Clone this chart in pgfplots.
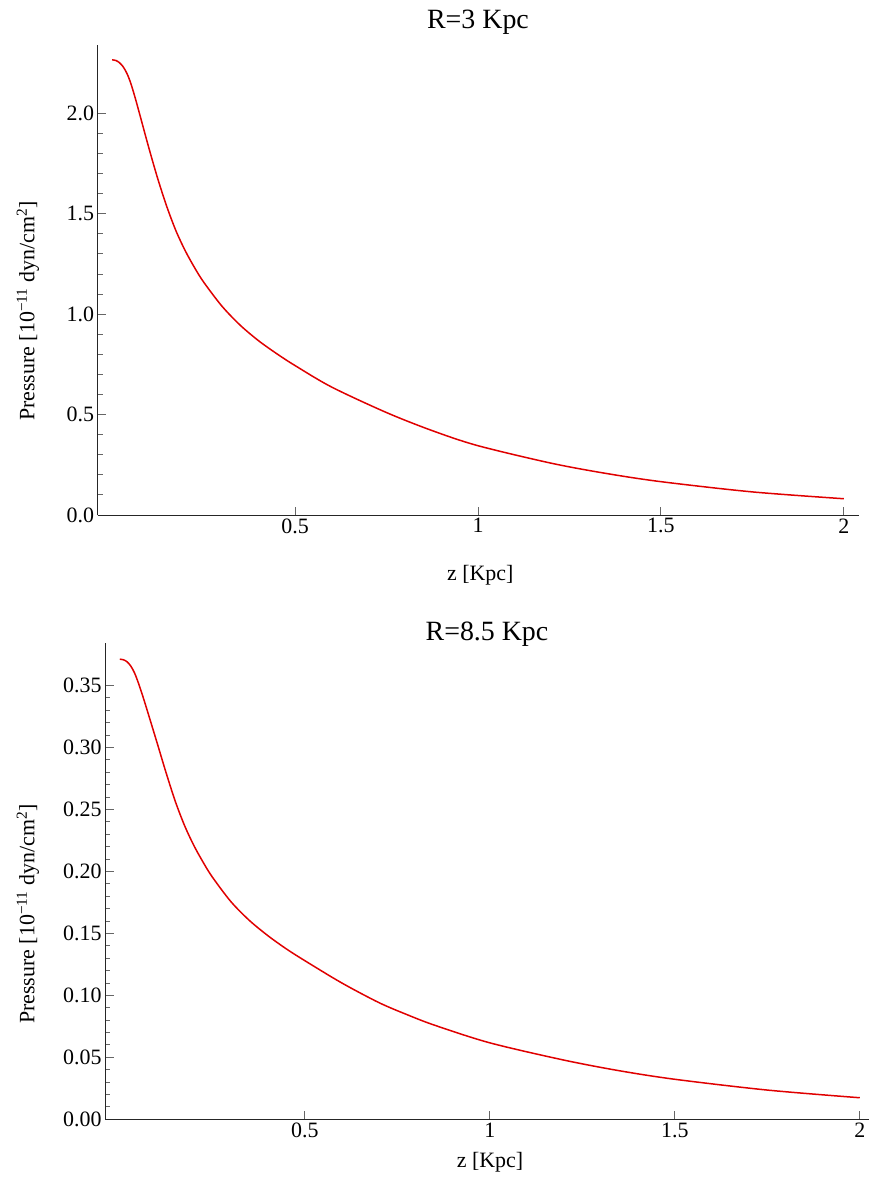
\documentclass[border=0pt]{standalone}
\usepackage{fontspec}
\setmainfont{Liberation Serif}
\usepackage{pgfplots}
\pgfplotsset{compat=1.18}
\definecolor{curvered}{rgb}{0.88,0.0,0.0}
\begin{document}
\begin{tikzpicture}
\useasboundingbox (0bp,0bp) rectangle (870bp,-1193bp);
\pgfplotsset{
 mystyle/.style={
  scale only axis,
  axis lines=left,
  axis line style={-, black!85, line width=0.9bp},
  tick align=inside,
  major tick length=8.5bp,
  minor tick length=5bp,
  tick style={black!60, line width=0.9bp},
  xtick={0.5,1,1.5,2},
  minor x tick num=0,
  minor y tick num=4,
  ticklabel style={font=\fontsize{22}{24}\selectfont},
  /pgf/number format/assume math mode=true,
  label style={font=\fontsize{22}{24}\selectfont},
  title style={font=\fontsize{28}{30}\selectfont},
  clip=false,
 }
}
\begin{axis}[mystyle,
  at={(97.5bp,-515bp)}, anchor=south west,
  width=761bp, height=470bp,
  xmin=-0.04, xmax=2.04, ymin=0, ymax=2.34,
  ytick={0,0.5,1,1.5,2},
  yticklabel style={/pgf/number format/.cd, fixed, fixed zerofill, precision=1},
  title={R=3 Kpc},
  title style={at={(axis description cs:0.5,1)}, anchor=center, yshift=17bp},
  xlabel={z [Kpc]},
  xlabel style={at={(axis description cs:0.503,0)}, anchor=center, yshift=-60bp},
  ylabel={Pressure [10\textsuperscript{−11} dyn/cm\textsuperscript{2}]},
  ylabel style={at={(axis description cs:-0.0913,0.434)}, anchor=center},
]
\addplot[curvered, line width=1.5bp, smooth] coordinates {
(0,2.266) (0.01,2.263) (0.02,2.252) (0.03,2.232) (0.04,2.200) (0.05,2.155)
(0.0625,2.080) (0.075,1.9975) (0.1,1.830) (0.125,1.6725) (0.15,1.5325) (0.175,1.4125)
(0.2,1.315) (0.225,1.2325) (0.25,1.160) (0.3,1.040) (0.35,0.945) (0.4,0.868)
(0.45,0.803) (0.5,0.744) (0.6,0.637) (0.75,0.510) (0.875,0.420) (1.0,0.345) (1.2,0.258)
(1.35,0.207) (1.5,0.166) (1.75,0.115) (2.0,0.081)
};
\end{axis}
\begin{axis}[mystyle,
  at={(105bp,-1119.3bp)}, anchor=south west,
  width=764bp, height=476bp,
  xmin=-0.04, xmax=2.025, ymin=0, ymax=0.384,
  ytick={0,0.05,0.1,0.15,0.2,0.25,0.3,0.35},
  yticklabel style={/pgf/number format/.cd, fixed, fixed zerofill, precision=2},
  title={R=8.5 Kpc},
  title style={at={(axis description cs:0.5,1)}, anchor=center, yshift=3bp},
  xlabel={z [Kpc]},
  xlabel style={at={(axis description cs:0.504,0)}, anchor=center, yshift=-43bp},
  ylabel={Pressure [10\textsuperscript{−11} dyn/cm\textsuperscript{2}]},
  ylabel style={at={(axis description cs:-0.1008,0.431)}, anchor=center},
]
\addplot[curvered, line width=1.5bp, smooth] coordinates {
(0,0.3712) (0.01,0.3707) (0.02,0.3690) (0.03,0.3655) (0.04,0.3600) (0.05,0.3522)
(0.0625,0.3410) (0.075,0.3290) (0.1,0.3045) (0.125,0.2797) (0.15,0.2565) (0.175,0.2370)
(0.2,0.2210) (0.225,0.2075) (0.25,0.1955) (0.3,0.1757) (0.35,0.1605) (0.4,0.1482)
(0.45,0.1375) (0.5,0.1280) (0.6,0.1100) (0.7,0.0942) (0.775,0.0846) (0.85,0.0760)
(1.0,0.0617) (1.2,0.0478) (1.35,0.0392) (1.5,0.0323) (1.75,0.0236) (2.0,0.0174)
};
\end{axis}
\end{tikzpicture}
\end{document}
